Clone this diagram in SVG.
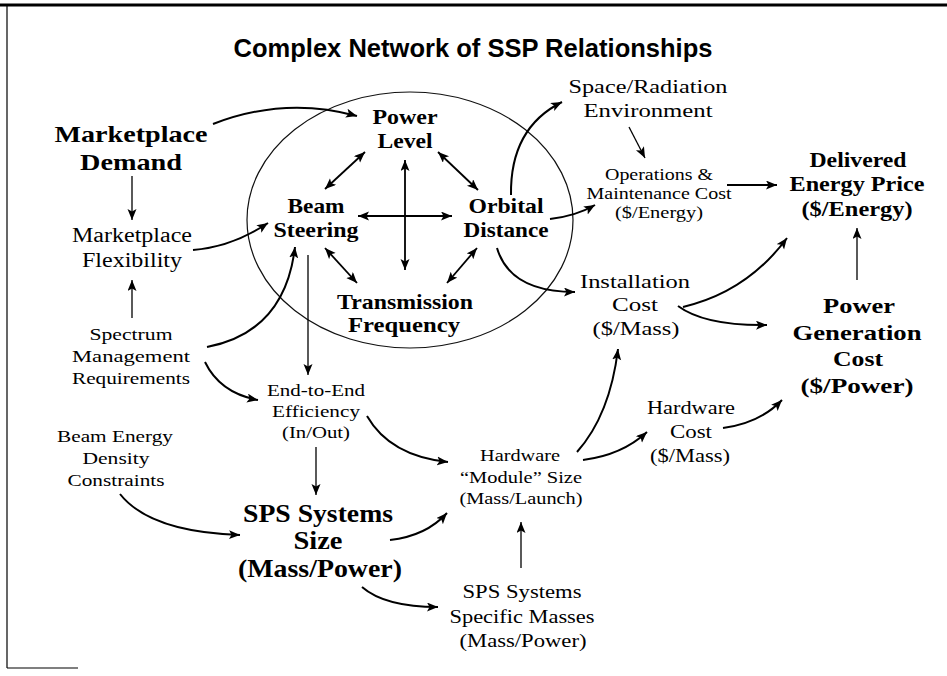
<svg xmlns="http://www.w3.org/2000/svg" width="947" height="676" viewBox="0 0 947 676">
<style>
text{font-family:"Liberation Serif","Times New Roman",serif;fill:#000;text-anchor:middle}
.b{font-weight:bold}
.t{font-family:"Liberation Sans",Arial,sans-serif;font-weight:bold}
.c{fill:none;stroke:#000;stroke-width:2;marker-end:url(#ah)}
.s{fill:none;stroke:#000;stroke-width:1.3;marker-end:url(#ah)}
.d{fill:none;stroke:#000;stroke-width:1.8;marker-end:url(#ah);marker-start:url(#ah)}
</style>
<defs>
<marker id="ah" markerUnits="userSpaceOnUse" markerWidth="12" markerHeight="10" refX="11" refY="4.5" orient="auto-start-reverse">
<path d="M0,0 L11,4.5 L0,9 L2.5,4.5 z" fill="#000"/>
</marker>
</defs>
<rect width="947" height="676" fill="#fff"/>
<g id="frame" stroke="#000" fill="none">
<line x1="0" y1="5" x2="947" y2="5" stroke-width="3"/>
<line x1="7" y1="6" x2="7" y2="668" stroke-width="1.2"/>
<line x1="7" y1="668" x2="78" y2="668" stroke-width="1.2"/>
</g>
<text id="title" class="t" x="473" y="57" font-size="26" textLength="479" lengthAdjust="spacingAndGlyphs">Complex Network of SSP Relationships</text>
<ellipse id="core" cx="410" cy="220" rx="163" ry="128" fill="none" stroke="#111" stroke-width="1.2"/>
<g id="connectors">
<path class="c" d="M213,124 Q285,96 357,116"/>
<path class="s" d="M132,176 L132,220"/>
<path class="c" d="M193,250 Q232,247 268,223"/>
<path class="s" d="M132,318 L132,280"/>
<path class="c" d="M207,347 Q285,332 295,247"/>
<path class="c" d="M205,362 Q220,393 258,400"/>
<path class="s" d="M308,255 L308,375"/>
<path class="s" d="M316,447 L316,495"/>
<path class="c" d="M120,494 Q150,532 240,535"/>
<path class="c" d="M367,416 Q390,456 448,462"/>
<path class="c" d="M390,540 Q426,536 447,513"/>
<path class="c" d="M362,587 Q385,607 438,607"/>
<path class="s" d="M521,568 L521,522"/>
<path class="c" d="M577,452 Q610,415 618,349"/>
<path class="c" d="M583,460 Q622,455 647,432"/>
<path class="c" d="M723,428 Q760,423 782,400"/>
<path class="c" d="M683,307 Q747,292 787,238"/>
<path class="c" d="M678,306 Q705,326 767,325"/>
<path class="s" d="M857,280 L857,228"/>
<path class="c" d="M727,185 L777,185"/>
<path class="s" d="M629,127 L645,158"/>
<path class="c" d="M511,195 Q510,128 562,102"/>
<path class="c" d="M550,219 Q576,216 595,205"/>
<path class="c" d="M497,248 Q510,292 575,292"/>
<path class="d" d="M365,152 L325,189"/>
<path class="d" d="M438,152 L478,190"/>
<path class="d" d="M405,160 L405,270"/>
<path class="d" d="M358,216 L452,216"/>
<path class="d" d="M325,248 L357,283"/>
<path class="d" d="M477,248 L447,283"/>
</g>
<g id="marketplace-demand" class="b" font-size="24">
<text class="b" x="131" y="142" textLength="153" lengthAdjust="spacingAndGlyphs">Marketplace</text>
<text class="b" x="131" y="170" textLength="102" lengthAdjust="spacingAndGlyphs">Demand</text>
</g>
<g id="power-level" font-size="21">
<text class="b" x="405" y="124" textLength="65" lengthAdjust="spacingAndGlyphs">Power</text>
<text class="b" x="405" y="148" textLength="55" lengthAdjust="spacingAndGlyphs">Level</text>
</g>
<g id="beam-steering" font-size="21">
<text class="b" x="316" y="213" textLength="57" lengthAdjust="spacingAndGlyphs">Beam</text>
<text class="b" x="316" y="237" textLength="85" lengthAdjust="spacingAndGlyphs">Steering</text>
</g>
<g id="orbital-distance" font-size="21">
<text class="b" x="506" y="213" textLength="75" lengthAdjust="spacingAndGlyphs">Orbital</text>
<text class="b" x="506" y="237" textLength="85" lengthAdjust="spacingAndGlyphs">Distance</text>
</g>
<g id="transmission-frequency" font-size="21">
<text class="b" x="405" y="309" textLength="136" lengthAdjust="spacingAndGlyphs">Transmission</text>
<text class="b" x="404" y="332" textLength="112" lengthAdjust="spacingAndGlyphs">Frequency</text>
</g>
<g id="marketplace-flexibility" font-size="20">
<text x="132" y="242" textLength="120" lengthAdjust="spacingAndGlyphs">Marketplace</text>
<text x="132" y="267" textLength="100" lengthAdjust="spacingAndGlyphs">Flexibility</text>
</g>
<g id="spectrum" font-size="17">
<text x="131" y="340" textLength="83" lengthAdjust="spacingAndGlyphs">Spectrum</text>
<text x="131" y="362" textLength="118" lengthAdjust="spacingAndGlyphs">Management</text>
<text x="131" y="384" textLength="118" lengthAdjust="spacingAndGlyphs">Requirements</text>
</g>
<g id="end-to-end" font-size="17">
<text x="316" y="396" textLength="98" lengthAdjust="spacingAndGlyphs">End-to-End</text>
<text x="316" y="417" textLength="88" lengthAdjust="spacingAndGlyphs">Efficiency</text>
<text x="316" y="438" textLength="68" lengthAdjust="spacingAndGlyphs">(In/Out)</text>
</g>
<g id="beam-energy" font-size="17">
<text x="115" y="442" textLength="116" lengthAdjust="spacingAndGlyphs">Beam Energy</text>
<text x="116" y="464" textLength="67" lengthAdjust="spacingAndGlyphs">Density</text>
<text x="116" y="486" textLength="97" lengthAdjust="spacingAndGlyphs">Constraints</text>
</g>
<g id="sps-size" font-size="26">
<text class="b" x="318" y="522" textLength="150" lengthAdjust="spacingAndGlyphs">SPS Systems</text>
<text class="b" x="318" y="549" textLength="49" lengthAdjust="spacingAndGlyphs">Size</text>
<text class="b" x="320" y="577" textLength="164" lengthAdjust="spacingAndGlyphs">(Mass/Power)</text>
</g>
<g id="hardware-module" font-size="17">
<text x="520" y="461" textLength="80" lengthAdjust="spacingAndGlyphs">Hardware</text>
<text x="521" y="483" textLength="122" lengthAdjust="spacingAndGlyphs">“Module” Size</text>
<text x="521" y="504" textLength="123" lengthAdjust="spacingAndGlyphs">(Mass/Launch)</text>
</g>
<g id="sps-specific" font-size="19">
<text x="522" y="598" textLength="119" lengthAdjust="spacingAndGlyphs">SPS Systems</text>
<text x="522" y="623" textLength="145" lengthAdjust="spacingAndGlyphs">Specific Masses</text>
<text x="523" y="647" textLength="127" lengthAdjust="spacingAndGlyphs">(Mass/Power)</text>
</g>
<g id="hardware-cost" font-size="19">
<text x="691" y="414" textLength="88" lengthAdjust="spacingAndGlyphs">Hardware</text>
<text x="691" y="438" textLength="42" lengthAdjust="spacingAndGlyphs">Cost</text>
<text x="690" y="462" textLength="80" lengthAdjust="spacingAndGlyphs">($/Mass)</text>
</g>
<g id="installation-cost" font-size="19">
<text x="635" y="288" textLength="110" lengthAdjust="spacingAndGlyphs">Installation</text>
<text x="635" y="311" textLength="46" lengthAdjust="spacingAndGlyphs">Cost</text>
<text x="636" y="335" textLength="87" lengthAdjust="spacingAndGlyphs">($/Mass)</text>
</g>
<g id="power-generation-cost" font-size="22">
<text class="b" x="859" y="313" textLength="72" lengthAdjust="spacingAndGlyphs">Power</text>
<text class="b" x="857" y="340" textLength="129" lengthAdjust="spacingAndGlyphs">Generation</text>
<text class="b" x="858" y="366" textLength="50" lengthAdjust="spacingAndGlyphs">Cost</text>
<text class="b" x="857" y="393" textLength="113" lengthAdjust="spacingAndGlyphs">($/Power)</text>
</g>
<g id="delivered-energy-price" font-size="20">
<text class="b" x="858" y="167" textLength="97" lengthAdjust="spacingAndGlyphs">Delivered</text>
<text class="b" x="857" y="191" textLength="135" lengthAdjust="spacingAndGlyphs">Energy Price</text>
<text class="b" x="857" y="216" textLength="111" lengthAdjust="spacingAndGlyphs">($/Energy)</text>
</g>
<g id="operations-maintenance" font-size="16">
<text x="659" y="180" textLength="108" lengthAdjust="spacingAndGlyphs">Operations &amp;</text>
<text x="659" y="199" textLength="145" lengthAdjust="spacingAndGlyphs">Maintenance Cost</text>
<text x="659" y="218" textLength="88" lengthAdjust="spacingAndGlyphs">($/Energy)</text>
</g>
<g id="space-radiation" font-size="19">
<text x="648" y="93" textLength="159" lengthAdjust="spacingAndGlyphs">Space/Radiation</text>
<text x="648" y="117" textLength="129" lengthAdjust="spacingAndGlyphs">Environment</text>
</g>
</svg>
